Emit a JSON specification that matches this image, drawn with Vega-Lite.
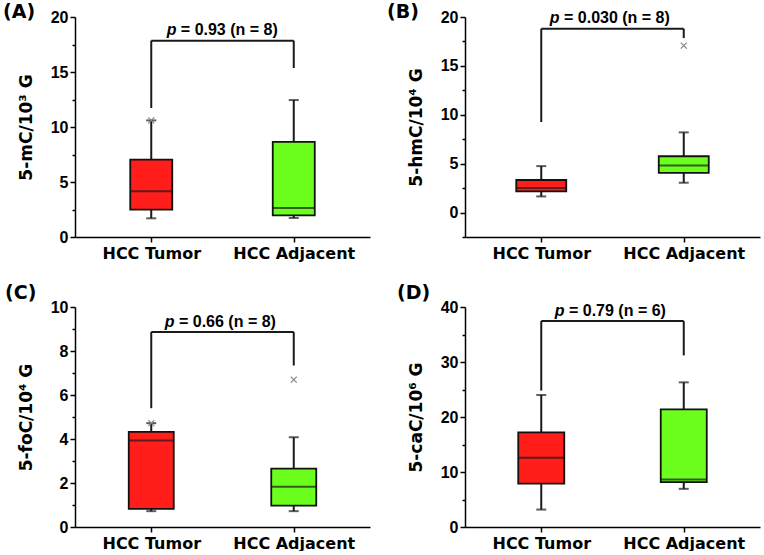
{
"$schema": "https://vega.github.io/schema/vega-lite/v6.json",
"padding": {"left": 3, "top": 3, "right": 4, "bottom": 0},
"background": "white",
"bounds": "flush",
"spacing": {"row": 70, "column": 95},
"columns": 2,
"datasets": {
 "box": [
  {"panel": "A", "group": "HCC Tumor", "pos": 1, "lo": 1.7, "q1": 2.48, "med": 4.15, "q3": 7.03, "hi": 10.6},
  {"panel": "A", "group": "HCC Adjacent", "pos": 2, "lo": 1.73, "q1": 1.97, "med": 2.64, "q3": 8.64, "hi": 12.45},
  {"panel": "B", "group": "HCC Tumor", "pos": 1, "lo": 1.65, "q1": 2.16, "med": 2.5, "q3": 3.33, "hi": 4.75},
  {"panel": "B", "group": "HCC Adjacent", "pos": 2, "lo": 3.05, "q1": 4.05, "med": 4.8, "q3": 5.76, "hi": 8.2},
  {"panel": "C", "group": "HCC Tumor", "pos": 1, "lo": 0.72, "q1": 0.82, "med": 3.93, "q3": 4.32, "hi": 4.72},
  {"panel": "C", "group": "HCC Adjacent", "pos": 2, "lo": 0.72, "q1": 0.97, "med": 1.83, "q3": 2.65, "hi": 4.08},
  {"panel": "D", "group": "HCC Tumor", "pos": 1, "lo": 3.17, "q1": 7.9, "med": 12.6, "q3": 17.2, "hi": 24.0},
  {"panel": "D", "group": "HCC Adjacent", "pos": 2, "lo": 6.94, "q1": 8.16, "med": 8.65, "q3": 21.4, "hi": 26.3}
 ],
 "pts": [
  {"panel": "A", "pos": 1, "v": 10.6},
  {"panel": "B", "pos": 2, "v": 17.08},
  {"panel": "C", "pos": 1, "v": 4.72},
  {"panel": "C", "pos": 2, "v": 6.7}
 ],
 "br": [
  {"panel": "A", "x": 1, "x2": 2, "y": 17.85, "y2": 17.85},
  {"panel": "A", "x": 1, "x2": 1, "y": 11.73, "y2": 17.85},
  {"panel": "A", "x": 2, "x2": 2, "y": 15.36, "y2": 17.85},
  {"panel": "B", "x": 1, "x2": 2, "y": 18.8, "y2": 18.8},
  {"panel": "B", "x": 1, "x2": 1, "y": 9.26, "y2": 18.8},
  {"panel": "B", "x": 2, "x2": 2, "y": 17.84, "y2": 18.8},
  {"panel": "C", "x": 1, "x2": 2, "y": 8.86, "y2": 8.86},
  {"panel": "C", "x": 1, "x2": 1, "y": 5.4, "y2": 8.86},
  {"panel": "C", "x": 2, "x2": 2, "y": 7.34, "y2": 8.86},
  {"panel": "D", "x": 1, "x2": 2, "y": 37.44, "y2": 37.44},
  {"panel": "D", "x": 1, "x2": 1, "y": 24.8, "y2": 37.44},
  {"panel": "D", "x": 2, "x2": 2, "y": 31.2, "y2": 37.44}
 ],
 "lab": [
  {"panel": "A", "tx": 1.108, "ty": 18.85, "p": "p", "rest": "= 0.93 (n = 8)"},
  {"panel": "B", "tx": 1.06, "ty": 19.9, "p": "p", "rest": "= 0.030 (n = 8)"},
  {"panel": "C", "tx": 1.095, "ty": 9.32, "p": "p", "rest": "= 0.66 (n = 8)"},
  {"panel": "D", "tx": 1.095, "ty": 39.2, "p": "p", "rest": "= 0.79 (n = 6)"}
 ]
},
"concat": [
  {
   "width": 295, "height": 220,
   "title": {"text": "(A)", "anchor": "start", "frame": "group", "dx": -72, "offset": -13},
   "resolve": {"axis": {"y": "independent"}},
   "layer": [
    {"data": {"name": "box"}, "transform": [{"filter": "datum.panel == 'A'"}],
     "mark": {"type": "rule", "color": "#1a1a1a", "strokeWidth": 2},
     "encoding": {
      "x": {"field": "pos", "type": "quantitative", "scale": {"domain": [0.5, 2.5], "nice": false, "zero": false}, "axis": {"values": [1, 2], "labelExpr": "datum.value == 1 ? 'HCC Tumor' : 'HCC Adjacent'", "title": null}},
      "y": {"field": "lo", "type": "quantitative", "scale": {"domain": [0, 20], "nice": false, "zero": false}, "axis": {"values": [0, 5, 10, 15, 20], "title": "5-mC/10³ G", "orient": "left"}},
      "y2": {"field": "hi"}}},
    {"data": {"name": "box"}, "transform": [{"filter": "datum.panel == 'A'"}],
     "mark": {"type": "tick", "orient": "horizontal", "size": 10, "thickness": 2, "color": "#1a1a1a"},
     "encoding": {
      "x": {"field": "pos", "type": "quantitative"},
      "y": {"field": "lo", "type": "quantitative", "axis": {"values": [2.5, 7.5, 12.5, 17.5], "labels": false, "domain": false, "tickSize": 3, "title": null, "orient": "left"}}}},
    {"data": {"name": "box"}, "transform": [{"filter": "datum.panel == 'A'"}],
     "mark": {"type": "tick", "orient": "horizontal", "size": 10, "thickness": 2, "color": "#1a1a1a"},
     "encoding": {"x": {"field": "pos", "type": "quantitative"}, "y": {"field": "hi", "type": "quantitative", "axis": null}}},
    {"data": {"name": "box"}, "transform": [{"filter": "datum.panel == 'A'"}],
     "mark": {"type": "bar", "size": 42, "stroke": "#111", "strokeWidth": 1.8},
     "encoding": {"x": {"field": "pos", "type": "quantitative"}, "y": {"field": "q1", "type": "quantitative", "axis": null}, "y2": {"field": "q3"},
      "color": {"field": "group", "type": "nominal", "scale": {"domain": ["HCC Tumor", "HCC Adjacent"], "range": ["#FF1E1A", "#6CFF1E"]}, "legend": null}}},
    {"data": {"name": "box"}, "transform": [{"filter": "datum.panel == 'A'"}],
     "mark": {"type": "tick", "orient": "horizontal", "size": 42, "thickness": 2, "color": "#1a1a1a"},
     "encoding": {"x": {"field": "pos", "type": "quantitative"}, "y": {"field": "med", "type": "quantitative", "axis": null}}},
    {"data": {"name": "pts"}, "transform": [{"filter": "datum.panel == 'A'"}],
     "mark": {"type": "point", "shape": "M-1,-1L1,1M1,-1L-1,1", "filled": false, "size": 36, "strokeWidth": 1.2, "color": "#7d8590", "opacity": 1},
     "encoding": {"x": {"field": "pos", "type": "quantitative"}, "y": {"field": "v", "type": "quantitative", "axis": null}}},
    {"data": {"name": "br"}, "transform": [{"filter": "datum.panel == 'A'"}],
     "mark": {"type": "rule", "color": "#1a1a1a", "strokeWidth": 2},
     "encoding": {"x": {"field": "x", "type": "quantitative"}, "x2": {"field": "x2"}, "y": {"field": "y", "type": "quantitative", "axis": null}, "y2": {"field": "y2"}}},
    {"data": {"name": "lab"}, "transform": [{"filter": "datum.panel == 'A'"}],
     "mark": {"type": "text", "align": "left", "baseline": "middle", "font": "Liberation Sans", "fontSize": 16, "fontWeight": "bold", "fontStyle": "italic", "color": "#000"},
     "encoding": {"x": {"field": "tx", "type": "quantitative"}, "y": {"field": "ty", "type": "quantitative", "axis": null}, "text": {"field": "p"}}},
    {"data": {"name": "lab"}, "transform": [{"filter": "datum.panel == 'A'"}],
     "mark": {"type": "text", "align": "left", "baseline": "middle", "dx": 14.2, "font": "Liberation Sans", "fontSize": 16, "fontWeight": "bold", "color": "#000"},
     "encoding": {"x": {"field": "tx", "type": "quantitative"}, "y": {"field": "ty", "type": "quantitative", "axis": null}, "text": {"field": "rest"}}}
   ]
  },
  {
   "width": 295, "height": 220,
   "title": {"text": "(B)", "anchor": "start", "frame": "group", "dx": -78, "offset": -13},
   "resolve": {"axis": {"y": "independent"}},
   "layer": [
    {"data": {"name": "box"}, "transform": [{"filter": "datum.panel == 'B'"}],
     "mark": {"type": "rule", "color": "#1a1a1a", "strokeWidth": 2},
     "encoding": {
      "x": {"field": "pos", "type": "quantitative", "scale": {"domain": [0.5, 2.5], "nice": false, "zero": false}, "axis": {"values": [1, 2], "labelExpr": "datum.value == 1 ? 'HCC Tumor' : 'HCC Adjacent'", "title": null}},
      "y": {"field": "lo", "type": "quantitative", "scale": {"domain": [-2.5, 20], "nice": false, "zero": false}, "axis": {"values": [0, 5, 10, 15, 20], "title": "5-hmC/10⁴ G", "orient": "left"}},
      "y2": {"field": "hi"}}},
    {"data": {"name": "box"}, "transform": [{"filter": "datum.panel == 'B'"}],
     "mark": {"type": "tick", "orient": "horizontal", "size": 10, "thickness": 2, "color": "#1a1a1a"},
     "encoding": {
      "x": {"field": "pos", "type": "quantitative"},
      "y": {"field": "lo", "type": "quantitative", "axis": {"values": [-2.5, 2.5, 7.5, 12.5, 17.5], "labels": false, "domain": false, "tickSize": 3, "title": null, "orient": "left"}}}},
    {"data": {"name": "box"}, "transform": [{"filter": "datum.panel == 'B'"}],
     "mark": {"type": "tick", "orient": "horizontal", "size": 10, "thickness": 2, "color": "#1a1a1a"},
     "encoding": {"x": {"field": "pos", "type": "quantitative"}, "y": {"field": "hi", "type": "quantitative", "axis": null}}},
    {"data": {"name": "box"}, "transform": [{"filter": "datum.panel == 'B'"}],
     "mark": {"type": "bar", "size": 50, "stroke": "#111", "strokeWidth": 1.8},
     "encoding": {"x": {"field": "pos", "type": "quantitative"}, "y": {"field": "q1", "type": "quantitative", "axis": null}, "y2": {"field": "q3"},
      "color": {"field": "group", "type": "nominal", "scale": {"domain": ["HCC Tumor", "HCC Adjacent"], "range": ["#FF1E1A", "#6CFF1E"]}, "legend": null}}},
    {"data": {"name": "box"}, "transform": [{"filter": "datum.panel == 'B'"}],
     "mark": {"type": "tick", "orient": "horizontal", "size": 50, "thickness": 2, "color": "#1a1a1a"},
     "encoding": {"x": {"field": "pos", "type": "quantitative"}, "y": {"field": "med", "type": "quantitative", "axis": null}}},
    {"data": {"name": "pts"}, "transform": [{"filter": "datum.panel == 'B'"}],
     "mark": {"type": "point", "shape": "M-1,-1L1,1M1,-1L-1,1", "filled": false, "size": 36, "strokeWidth": 1.2, "color": "#7d8590", "opacity": 1},
     "encoding": {"x": {"field": "pos", "type": "quantitative"}, "y": {"field": "v", "type": "quantitative", "axis": null}}},
    {"data": {"name": "br"}, "transform": [{"filter": "datum.panel == 'B'"}],
     "mark": {"type": "rule", "color": "#1a1a1a", "strokeWidth": 2},
     "encoding": {"x": {"field": "x", "type": "quantitative"}, "x2": {"field": "x2"}, "y": {"field": "y", "type": "quantitative", "axis": null}, "y2": {"field": "y2"}}},
    {"data": {"name": "lab"}, "transform": [{"filter": "datum.panel == 'B'"}],
     "mark": {"type": "text", "align": "left", "baseline": "middle", "font": "Liberation Sans", "fontSize": 16, "fontWeight": "bold", "fontStyle": "italic", "color": "#000"},
     "encoding": {"x": {"field": "tx", "type": "quantitative"}, "y": {"field": "ty", "type": "quantitative", "axis": null}, "text": {"field": "p"}}},
    {"data": {"name": "lab"}, "transform": [{"filter": "datum.panel == 'B'"}],
     "mark": {"type": "text", "align": "left", "baseline": "middle", "dx": 14.2, "font": "Liberation Sans", "fontSize": 16, "fontWeight": "bold", "color": "#000"},
     "encoding": {"x": {"field": "tx", "type": "quantitative"}, "y": {"field": "ty", "type": "quantitative", "axis": null}, "text": {"field": "rest"}}}
   ]
  },
  {
   "width": 295, "height": 220,
   "title": {"text": "(C)", "anchor": "start", "frame": "group", "dx": -70, "offset": -4},
   "resolve": {"axis": {"y": "independent"}},
   "layer": [
    {"data": {"name": "box"}, "transform": [{"filter": "datum.panel == 'C'"}],
     "mark": {"type": "rule", "color": "#1a1a1a", "strokeWidth": 2},
     "encoding": {
      "x": {"field": "pos", "type": "quantitative", "scale": {"domain": [0.5, 2.5], "nice": false, "zero": false}, "axis": {"values": [1, 2], "labelExpr": "datum.value == 1 ? 'HCC Tumor' : 'HCC Adjacent'", "title": null}},
      "y": {"field": "lo", "type": "quantitative", "scale": {"domain": [0, 10], "nice": false, "zero": false}, "axis": {"values": [0, 2, 4, 6, 8, 10], "title": "5-foC/10⁴ G", "orient": "left"}},
      "y2": {"field": "hi"}}},
    {"data": {"name": "box"}, "transform": [{"filter": "datum.panel == 'C'"}],
     "mark": {"type": "tick", "orient": "horizontal", "size": 10, "thickness": 2, "color": "#1a1a1a"},
     "encoding": {
      "x": {"field": "pos", "type": "quantitative"},
      "y": {"field": "lo", "type": "quantitative", "axis": {"values": [1, 3, 5, 7, 9], "labels": false, "domain": false, "tickSize": 3, "title": null, "orient": "left"}}}},
    {"data": {"name": "box"}, "transform": [{"filter": "datum.panel == 'C'"}],
     "mark": {"type": "tick", "orient": "horizontal", "size": 10, "thickness": 2, "color": "#1a1a1a"},
     "encoding": {"x": {"field": "pos", "type": "quantitative"}, "y": {"field": "hi", "type": "quantitative", "axis": null}}},
    {"data": {"name": "box"}, "transform": [{"filter": "datum.panel == 'C'"}],
     "mark": {"type": "bar", "size": 45, "stroke": "#111", "strokeWidth": 1.8},
     "encoding": {"x": {"field": "pos", "type": "quantitative"}, "y": {"field": "q1", "type": "quantitative", "axis": null}, "y2": {"field": "q3"},
      "color": {"field": "group", "type": "nominal", "scale": {"domain": ["HCC Tumor", "HCC Adjacent"], "range": ["#FF1E1A", "#6CFF1E"]}, "legend": null}}},
    {"data": {"name": "box"}, "transform": [{"filter": "datum.panel == 'C'"}],
     "mark": {"type": "tick", "orient": "horizontal", "size": 45, "thickness": 2, "color": "#1a1a1a"},
     "encoding": {"x": {"field": "pos", "type": "quantitative"}, "y": {"field": "med", "type": "quantitative", "axis": null}}},
    {"data": {"name": "pts"}, "transform": [{"filter": "datum.panel == 'C'"}],
     "mark": {"type": "point", "shape": "M-1,-1L1,1M1,-1L-1,1", "filled": false, "size": 36, "strokeWidth": 1.2, "color": "#7d8590", "opacity": 1},
     "encoding": {"x": {"field": "pos", "type": "quantitative"}, "y": {"field": "v", "type": "quantitative", "axis": null}}},
    {"data": {"name": "br"}, "transform": [{"filter": "datum.panel == 'C'"}],
     "mark": {"type": "rule", "color": "#1a1a1a", "strokeWidth": 2},
     "encoding": {"x": {"field": "x", "type": "quantitative"}, "x2": {"field": "x2"}, "y": {"field": "y", "type": "quantitative", "axis": null}, "y2": {"field": "y2"}}},
    {"data": {"name": "lab"}, "transform": [{"filter": "datum.panel == 'C'"}],
     "mark": {"type": "text", "align": "left", "baseline": "middle", "font": "Liberation Sans", "fontSize": 16, "fontWeight": "bold", "fontStyle": "italic", "color": "#000"},
     "encoding": {"x": {"field": "tx", "type": "quantitative"}, "y": {"field": "ty", "type": "quantitative", "axis": null}, "text": {"field": "p"}}},
    {"data": {"name": "lab"}, "transform": [{"filter": "datum.panel == 'C'"}],
     "mark": {"type": "text", "align": "left", "baseline": "middle", "dx": 14.2, "font": "Liberation Sans", "fontSize": 16, "fontWeight": "bold", "color": "#000"},
     "encoding": {"x": {"field": "tx", "type": "quantitative"}, "y": {"field": "ty", "type": "quantitative", "axis": null}, "text": {"field": "rest"}}}
   ]
  },
  {
   "width": 295, "height": 220,
   "title": {"text": "(D)", "anchor": "start", "frame": "group", "dx": -68, "offset": -4},
   "resolve": {"axis": {"y": "independent"}},
   "layer": [
    {"data": {"name": "box"}, "transform": [{"filter": "datum.panel == 'D'"}],
     "mark": {"type": "rule", "color": "#1a1a1a", "strokeWidth": 2},
     "encoding": {
      "x": {"field": "pos", "type": "quantitative", "scale": {"domain": [0.5, 2.5], "nice": false, "zero": false}, "axis": {"values": [1, 2], "labelExpr": "datum.value == 1 ? 'HCC Tumor' : 'HCC Adjacent'", "title": null}},
      "y": {"field": "lo", "type": "quantitative", "scale": {"domain": [0, 40], "nice": false, "zero": false}, "axis": {"values": [0, 10, 20, 30, 40], "title": "5-caC/10⁶ G", "orient": "left"}},
      "y2": {"field": "hi"}}},
    {"data": {"name": "box"}, "transform": [{"filter": "datum.panel == 'D'"}],
     "mark": {"type": "tick", "orient": "horizontal", "size": 10, "thickness": 2, "color": "#1a1a1a"},
     "encoding": {
      "x": {"field": "pos", "type": "quantitative"},
      "y": {"field": "lo", "type": "quantitative", "axis": {"values": [5, 15, 25, 35], "labels": false, "domain": false, "tickSize": 3, "title": null, "orient": "left"}}}},
    {"data": {"name": "box"}, "transform": [{"filter": "datum.panel == 'D'"}],
     "mark": {"type": "tick", "orient": "horizontal", "size": 10, "thickness": 2, "color": "#1a1a1a"},
     "encoding": {"x": {"field": "pos", "type": "quantitative"}, "y": {"field": "hi", "type": "quantitative", "axis": null}}},
    {"data": {"name": "box"}, "transform": [{"filter": "datum.panel == 'D'"}],
     "mark": {"type": "bar", "size": 46, "stroke": "#111", "strokeWidth": 1.8},
     "encoding": {"x": {"field": "pos", "type": "quantitative"}, "y": {"field": "q1", "type": "quantitative", "axis": null}, "y2": {"field": "q3"},
      "color": {"field": "group", "type": "nominal", "scale": {"domain": ["HCC Tumor", "HCC Adjacent"], "range": ["#FF1E1A", "#6CFF1E"]}, "legend": null}}},
    {"data": {"name": "box"}, "transform": [{"filter": "datum.panel == 'D'"}],
     "mark": {"type": "tick", "orient": "horizontal", "size": 46, "thickness": 2, "color": "#1a1a1a"},
     "encoding": {"x": {"field": "pos", "type": "quantitative"}, "y": {"field": "med", "type": "quantitative", "axis": null}}},
    {"data": {"name": "br"}, "transform": [{"filter": "datum.panel == 'D'"}],
     "mark": {"type": "rule", "color": "#1a1a1a", "strokeWidth": 2},
     "encoding": {"x": {"field": "x", "type": "quantitative"}, "x2": {"field": "x2"}, "y": {"field": "y", "type": "quantitative", "axis": null}, "y2": {"field": "y2"}}},
    {"data": {"name": "lab"}, "transform": [{"filter": "datum.panel == 'D'"}],
     "mark": {"type": "text", "align": "left", "baseline": "middle", "font": "Liberation Sans", "fontSize": 16, "fontWeight": "bold", "fontStyle": "italic", "color": "#000"},
     "encoding": {"x": {"field": "tx", "type": "quantitative"}, "y": {"field": "ty", "type": "quantitative", "axis": null}, "text": {"field": "p"}}},
    {"data": {"name": "lab"}, "transform": [{"filter": "datum.panel == 'D'"}],
     "mark": {"type": "text", "align": "left", "baseline": "middle", "dx": 14.2, "font": "Liberation Sans", "fontSize": 16, "fontWeight": "bold", "color": "#000"},
     "encoding": {"x": {"field": "tx", "type": "quantitative"}, "y": {"field": "ty", "type": "quantitative", "axis": null}, "text": {"field": "rest"}}}
   ]
  }
],
"config": {
 "view": {"stroke": null},
 "axis": {"grid": false, "domainColor": "#000", "domainWidth": 1.5, "tickColor": "#000", "tickWidth": 1.5, "tickSize": 5, "labelColor": "#000", "labelFont": "Liberation Sans", "labelFontWeight": "bold", "labelFontSize": 16, "titleFont": "DejaVu Sans", "titleFontWeight": "bold", "titleFontSize": 17, "titleColor": "#000"},
 "axisX": {"labelFont": "DejaVu Sans", "labelFontSize": 16, "labelPadding": 3},
 "axisY": {"labelPadding": 2, "titlePadding": 15},
 "title": {"font": "DejaVu Sans", "fontSize": 19, "fontWeight": "bold", "color": "#000"}
}
}
